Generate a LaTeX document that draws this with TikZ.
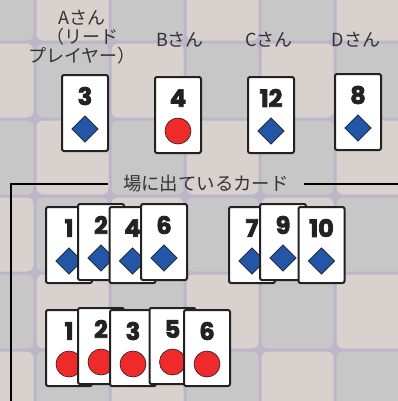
\documentclass[tikz,border=0pt]{standalone}
\usepackage{fontspec}
\setmainfont{Noto Sans CJK JP}
\newfontfamily\numfont{Poppins}[BoldFeatures={FakeBold=3}]
\usetikzlibrary{shapes.geometric}
\definecolor{tgray}{HTML}{C7C7C7}
\definecolor{tpink}{HTML}{D9D1CE}
\definecolor{tline}{HTML}{BDB5C8}
\definecolor{dblue}{HTML}{2356A6}
\definecolor{cred}{HTML}{EE2A2A}
\definecolor{ink}{HTML}{222222}
\definecolor{lbltext}{HTML}{333333}
\newcommand\pcard[5]{%
  \node[cardbox, anchor=north] (#1) at (#2,#3) {};
  \node[num] (#1n) at (#2,#3+22) {#4};
  \node[#5] (#1s) at (#2,#3+55) {};
}
\begin{document}
\begin{tikzpicture}[x=0.75pt,y=-0.75pt,
  cardbox/.style={draw=ink, fill=white, line width=1.5pt, rounded corners=1.5pt,
    minimum width=34.5pt, minimum height=57pt, inner sep=0pt},
  num/.style={font=\numfont\bfseries\fontsize{18}{18}\selectfont, text=ink, inner sep=0pt},
  dia/.style={diamond, draw=ink, line width=0.5pt, fill=dblue,
    minimum width=20pt, minimum height=20pt, inner sep=0pt},
  circ/.style={circle, draw=ink, line width=0.5pt, fill=cred,
    minimum size=19.5pt, inner sep=0pt},
  lbl/.style={font=\fontsize{13.5}{14.2}\selectfont, text=lbltext, align=center, inner sep=0pt},
  frameline/.style={draw=black, line width=1.2pt}]
\useasboundingbox (0,0) rectangle (398,401);
\clip (0,0) rectangle (398,401);
% background tiles
\fill[tline] (0,0) rectangle (398,401);
\foreach \c in {0,...,5}{
  \foreach \r in {0,...,5}{
    \pgfmathtruncatemacro\tpar{mod(\c+\r,2)}
    \ifnum\tpar=0 \def\tcol{tgray}\else\def\tcol{tpink}\fi
    \fill[\tcol, rounded corners=5pt] (-40+75*\c+1.5,-35+77*\r+1.5) rectangle (-40+75*\c+73.5,-35+77*\r+75.5);
  }
}
% player labels
\node[lbl] (la) at (82,37) {Aさん\\（リード\\プレイヤー）};
\node[lbl] (lb) at (180,40) {Bさん};
\node[lbl] (lc) at (269,40) {Cさん};
\node[lbl] (ld) at (356,40) {Dさん};
% player cards
\pcard{pa}{85}{74}{3}{dia}
\pcard{pb}{178}{76}{4}{circ}
\pcard{pc}{271}{76}{12}{dia}
\pcard{pd}{358}{73}{8}{dia}
% frame
\node[lbl, font=\fontsize{13.8}{14}\selectfont, inner xsep=11pt] (tt) at (206,184) {場に出ているカード};
\coordinate (fbl) at (11,410);
\coordinate (fr) at (410,184);
\draw[frameline] (fbl) |- (tt.west);
\draw[frameline] (tt.east) -- (fr);
% table cards: diamonds
\pcard{d1}{69}{206}{1}{dia}
\pcard{d2}{101}{203}{2}{dia}
\pcard{d4}{132.5}{206}{4}{dia}
\pcard{d6}{164}{203}{6}{dia}
\pcard{d7}{252}{206}{7}{dia}
\pcard{d9}{283}{203}{9}{dia}
\pcard{d10}{321.5}{206}{10}{dia}
% table cards: circles
\pcard{c1}{69}{309}{1}{circ}
\pcard{c2}{101}{307}{2}{circ}
\pcard{c3}{133}{309}{3}{circ}
\pcard{c5}{172.5}{307}{5}{circ}
\pcard{c6}{207}{309}{6}{circ}
\end{tikzpicture}
\end{document}
